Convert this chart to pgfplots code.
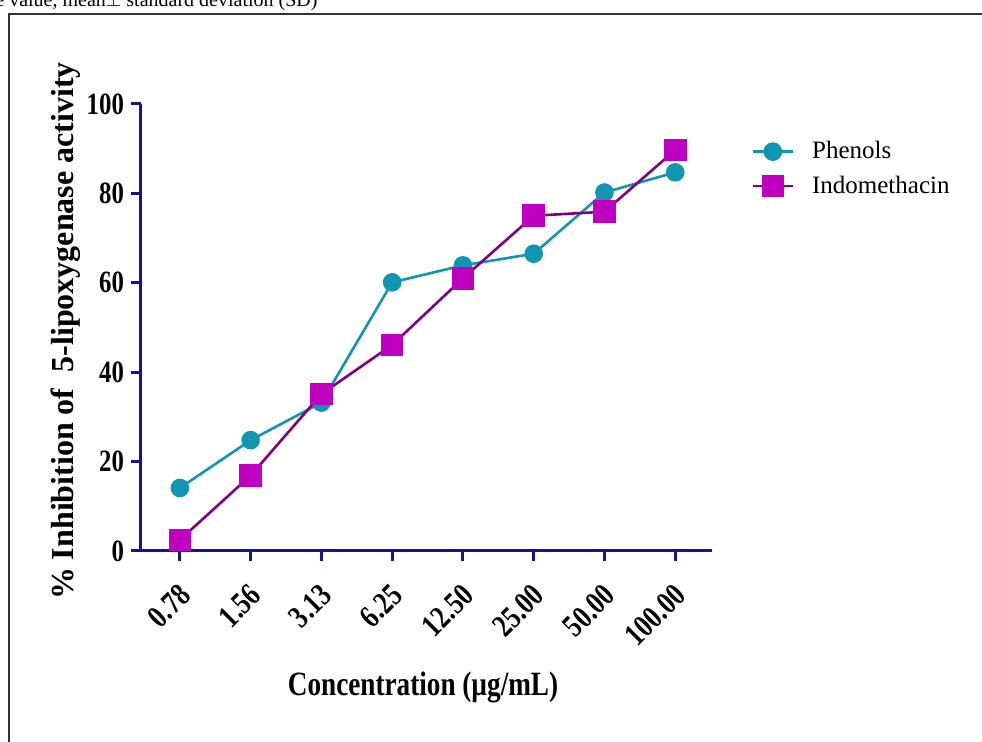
\documentclass[border=0pt]{standalone}
\usepackage{pgfplots}
\pgfplotsset{compat=1.18}
\usepackage{fontspec}
\setmainfont{Liberation Serif}
\newfontfamily\condfont[FakeStretch=0.8]{Liberation Serif}
\definecolor{navy}{RGB}{20,20,140}
\definecolor{tealc}{RGB}{16,150,176}
\definecolor{magm}{RGB}{192,0,192}
\definecolor{purpl}{RGB}{128,0,128}
\begin{document}
\begin{tikzpicture}
\useasboundingbox (0,0) rectangle (491pt,-371pt);
\begin{scope}
\clip (0,0) rectangle (491pt,-371pt);
\node[anchor=base west, inner sep=0, font=\fontsize{10}{12}\selectfont] at (-2.5pt,-3.5pt) {e value, mean$\pm$ standard deviation (SD)};
\draw[line width=0.9pt, black!80] (4.5pt,-7pt) rectangle (520pt,-400pt);
\end{scope}
\begin{axis}[
  at={(70.5pt,-275.5pt)}, anchor=south west,
  scale only axis, width=285.5pt, height=223.5pt,
  xmin=-0.55, xmax=7.52, ymin=0, ymax=100,
  clip=false,
  axis x line=bottom, axis y line=left,
  axis line style={-, line width=1.5pt, navy},
  xtick={0,...,7},
  xticklabels={0.78,1.56,3.13,6.25,12.50,25.00,50.00,100.00},
  ytick={0,20,...,100},
  tick align=outside, major tick length=5pt,
  tick style={line width=1.5pt, navy},
  /pgf/number format/assume math mode=true,
  x tick label style={rotate=45, anchor=east, xshift=-5pt, yshift=-12pt, font=\condfont\bfseries\fontsize{16}{16}\selectfont},
  y tick label style={font=\condfont\bfseries\fontsize{15.5}{15.5}\selectfont},
  xlabel={Concentration (µg/mL)},
  ylabel={\% Inhibition of \ 5-lipoxygenase activity},
  xlabel style={font=\condfont\bfseries\fontsize{17}{17}\selectfont, at={(axis description cs:0.494,-0.306)}, anchor=center},
  ylabel style={font=\bfseries\fontsize{16}{16}\selectfont, at={(axis description cs:-0.131,0.492)}, anchor=center},
  legend style={at={(axis description cs:1.058,0.935)}, anchor=north west, draw=none, fill=none,
    font=\fontsize{12.5}{14}\selectfont, row sep=3pt, cells={anchor=west},
    /tikz/every odd column/.append style={column sep=7pt}},
  legend image code/.code={\draw[mark repeat=2,mark phase=2,#1] plot coordinates {(0pt,0pt)(10pt,0pt)(20pt,0pt)};},
]
\addplot[color=tealc, line width=1.3pt, mark=*, mark size=4pt, mark options={fill=tealc, draw=tealc}]
  coordinates {(0,14.1)(1,24.8)(2,33.2)(3,60.1)(4,63.9)(5,66.5)(6,80.2)(7,84.7)};
\addlegendentry{Phenols}
\addplot[color=purpl, line width=1.3pt, mark=square*, mark size=5pt, mark options={fill=magm, draw=magm}]
  coordinates {(0,2.5)(1,16.9)(2,35.1)(3,46.1)(4,61.0)(5,75.0)(6,75.9)(7,89.7)};
\addlegendentry{Indomethacin}
\end{axis}
\end{tikzpicture}
\end{document}
